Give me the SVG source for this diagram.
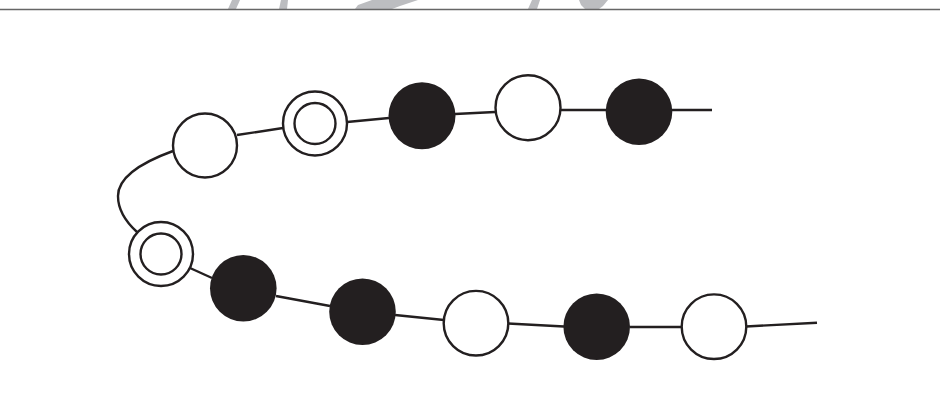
<svg xmlns="http://www.w3.org/2000/svg" width="940" height="415" viewBox="0 0 940 415">
<style>
.bg{fill:#ffffff}
.frag{fill:#bcbdc0}
.rule{stroke:#666666;stroke-width:1.6;fill:none}
.wire{stroke:#231f20;stroke-width:2.4;fill:none;stroke-linecap:butt}
.open{fill:#ffffff;stroke:#231f20;stroke-width:2.4}
.solid{fill:#231f20;stroke:none}
</style>
<rect class="bg" x="0" y="0" width="940" height="415"/>
<g id="fragments">
<polygon class="frag" points="232,0 240,0 236,9 228,9"/>
<polygon class="frag" points="281,0 288,0 287,9 279,9"/>
<polygon class="frag" points="372,0 418,0 400,6 392,9 355,9 358,5"/>
<polygon class="frag" points="532,0 540,0 537,9 528,9"/>
<path class="frag" d="M579,0 L608,0 L603,6 L599,9 L585,9 L581,5 Z"/>
</g>
<line class="rule" x1="0" y1="9.5" x2="940" y2="9.5"/>
<g id="connectors">
<path class="wire" d="M237,135 L283,128"/>
<path class="wire" d="M347,122 L389,118"/>
<path class="wire" d="M455,114 L495,112"/>
<path class="wire" d="M560,110 L606,110 L712,110"/>
<path class="wire" d="M173,151 C140,163 118,178 118,196 C118,210 126,222 137,232"/>
<path class="wire" d="M190,268 L212,278"/>
<path class="wire" d="M276,296 L330,306"/>
<path class="wire" d="M395,315 L444,320"/>
<path class="wire" d="M508,323.5 L564,326.5"/>
<path class="wire" d="M630,327 L682,327"/>
<path class="wire" d="M746,326.5 L817,322.7"/>
</g>
<g id="node-a"><circle class="open" cx="205" cy="145.5" r="32"/></g>
<g id="node-b"><circle class="open" cx="315" cy="123.5" r="32"/><circle class="open" cx="315" cy="123.5" r="20.5"/></g>
<g id="node-c"><circle class="solid" cx="422" cy="115.7" r="33.5"/></g>
<g id="node-d"><circle class="open" cx="528" cy="107.7" r="32.5"/></g>
<g id="node-e"><circle class="solid" cx="639" cy="111.7" r="33.3"/></g>
<g id="node-f"><circle class="open" cx="161" cy="254" r="32"/><circle class="open" cx="161" cy="254" r="20.5"/></g>
<g id="node-g"><circle class="solid" cx="243.3" cy="288.3" r="33.3"/></g>
<g id="node-h"><circle class="solid" cx="362.5" cy="311.7" r="33.3"/></g>
<g id="node-i"><circle class="open" cx="476" cy="323.2" r="32.3"/></g>
<g id="node-j"><circle class="solid" cx="596.7" cy="326.7" r="33.3"/></g>
<g id="node-k"><circle class="open" cx="714" cy="326.7" r="32.3"/></g>
</svg>
